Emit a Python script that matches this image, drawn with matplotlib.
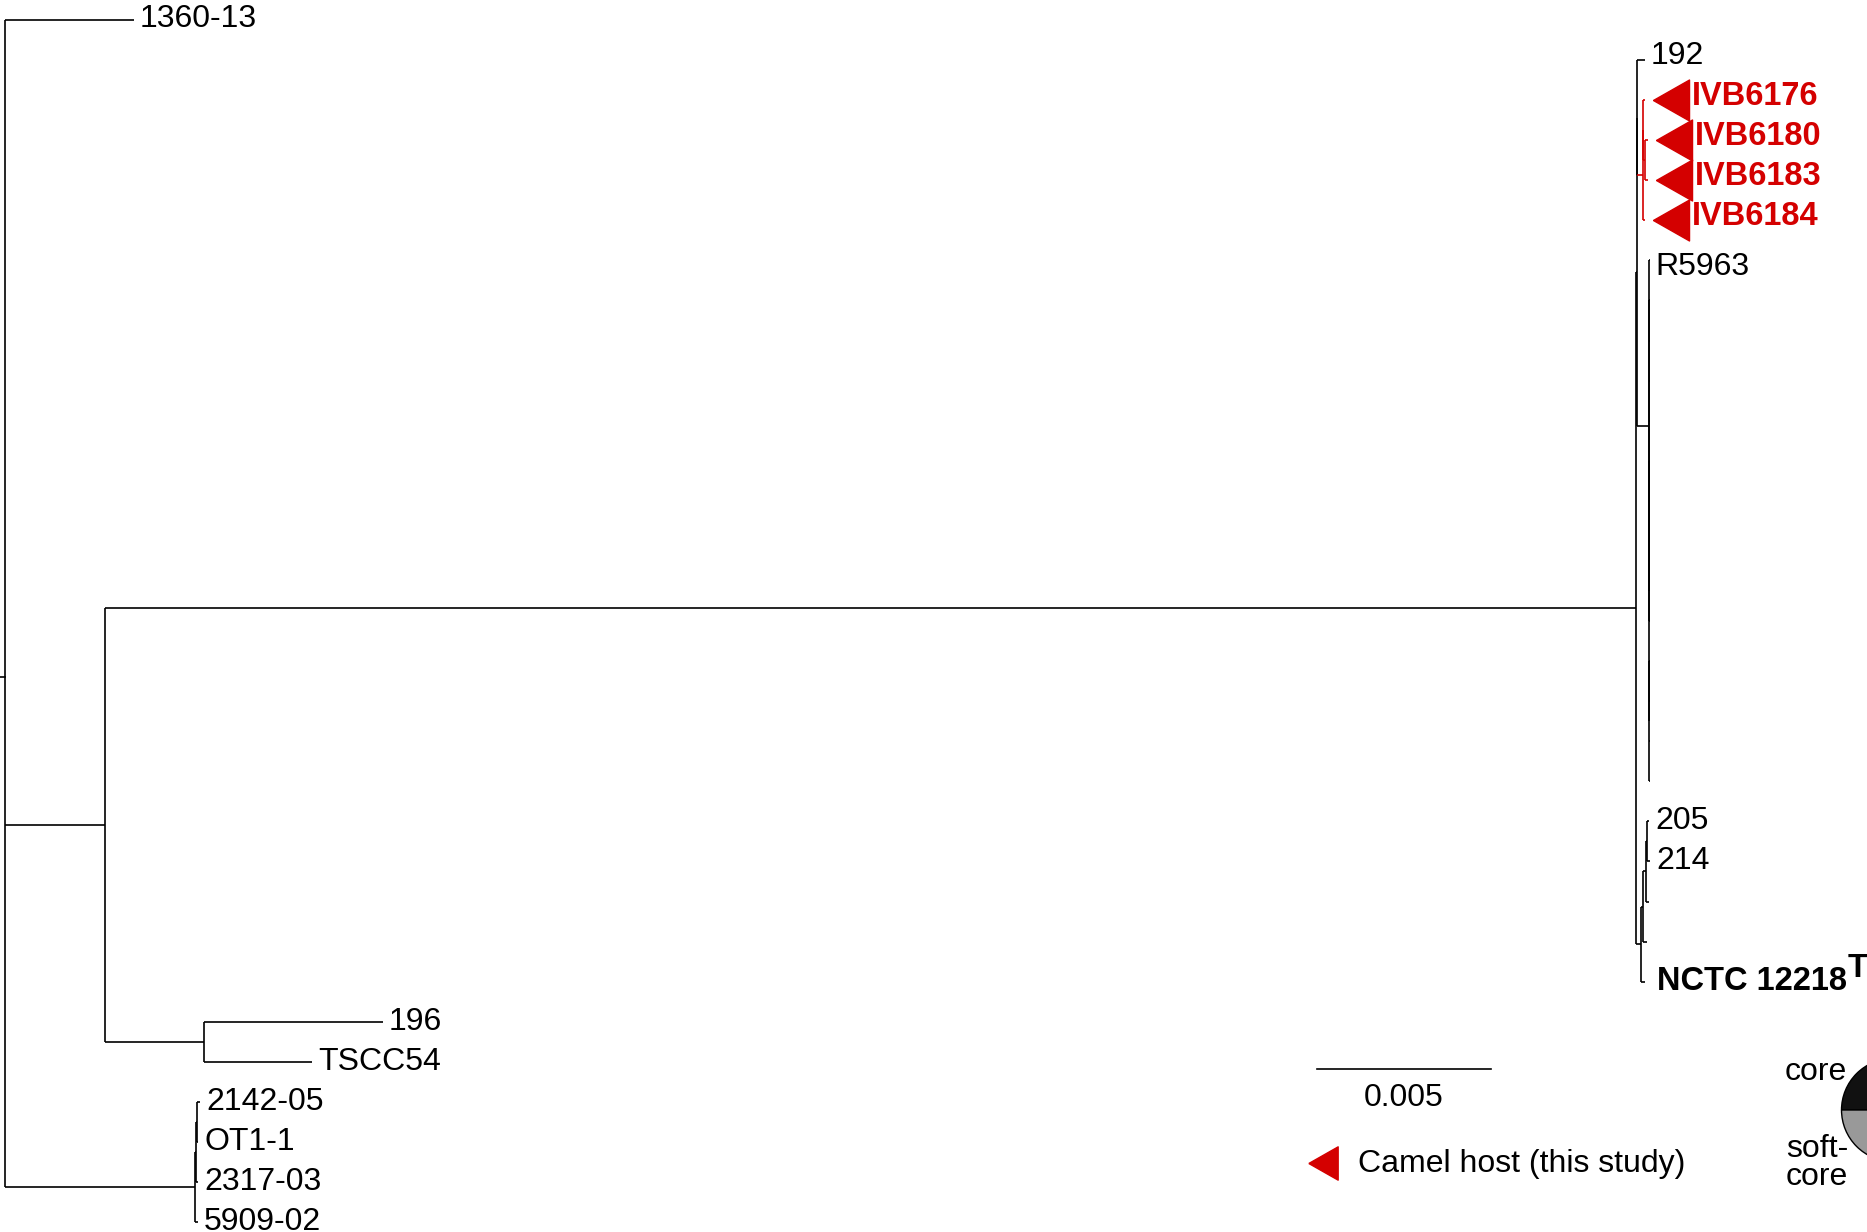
import matplotlib
matplotlib.use("Agg")
import matplotlib.pyplot as plt
import matplotlib.transforms as mtransforms

plt.rcParams['font.family'] = ['Liberation Sans', 'DejaVu Sans']

# tree nodes: name, parent, distance from root (substitutions/site)
node_names = ["root", "1360-13", "n_m", "n_q",
              "n_a", "n_n", "196", "TSCC54",
              "n_q1", "n_q2", "2142-05", "OT1-1", "2317-03", "5909-02",
              "n_e", "n_d", "n_f", "n_b", "192",
              "n_r1", "n_r2", "n_r3", "IVB6176", "IVB6180", "IVB6183", "IVB6184",
              "R5963", "n_x", "n_x1", "n_x2",
              "_h07", "_h08", "_h09", "_h10", "_h11", "_h12", "_h13", "_h14", "_h15",
              "_h16", "_h17", "_h18", "_h19",
              "n_c", "NCTC 12218", "n_g", "_h23", "n_g1", "205", "214", "_h22"]
node_parent = [None, "root", "root", "root",
               "n_m", "n_m", "n_n", "n_n",
               "n_q", "n_q1", "n_q2", "n_q2", "n_q1", "n_q",
               "n_a", "n_a", "n_e", "n_e", "n_f",
               "n_f", "n_r1", "n_r2", "n_r2", "n_r3", "n_r3", "n_r1",
               "n_b", "n_b", "n_x", "n_x",
               "n_x1", "n_x1", "n_x1", "n_x1", "n_x1", "n_x1", "n_x1", "n_x1", "n_x1",
               "n_x2", "n_x2", "n_x2", "n_x2",
               "n_d", "n_d", "n_c", "n_c", "n_g", "n_g1", "n_g1", "n_g"]
node_depth = [0.0, 0.00371, 0.00287, 0.00546,
              0.04687, 0.00572, 0.01086, 0.00882,
              0.00549, 0.00551, 0.00560, 0.00555, 0.00555, 0.00555,
              0.04689, 0.04701, 0.04690, 0.04725, 0.04713,
              0.04707, 0.04708, 0.04713, 0.04713, 0.04722, 0.04722, 0.04713,
              0.04726, 0.04725, 0.04725, 0.04725,
              0.04726, 0.04726, 0.04726, 0.04726, 0.04726, 0.04726, 0.04726, 0.04726, 0.04726,
              0.04726, 0.04726, 0.04726, 0.04726,
              0.04707, 0.04713, 0.04716, 0.04718, 0.04717, 0.04724, 0.04727, 0.04724]

# tip order, top to bottom
tip_order = ["1360-13", "192", "IVB6176", "IVB6180", "IVB6183", "IVB6184", "R5963",
             "_h07", "_h08", "_h09", "_h10", "_h11", "_h12", "_h13", "_h14", "_h15",
             "_h16", "_h17", "_h18", "_h19", "205", "214", "_h22", "_h23", "NCTC 12218",
             "196", "TSCC54", "2142-05", "OT1-1", "2317-03", "5909-02"]

camel_tips = ["IVB6176", "IVB6180", "IVB6183", "IVB6184"]
type_strain = "NCTC 12218"
scale_len = 0.005

red = '#d40000'
# small vertical nudges of some tip labels (pixels, up = +)
label_dy = {"192": 4, "R5963": -7, "1360-13": 1}

parent = dict(zip(node_names, node_parent))
depth = dict(zip(node_names, node_depth))
children = {n: [] for n in node_names}
for n, p in parent.items():
    if p is not None:
        children[p].append(n)

ypos = {}
for i, t in enumerate(tip_order):
    ypos[t] = i


def get_y(n):
    if n in ypos:
        return ypos[n]
    ys = [get_y(c) for c in children[n]]
    ypos[n] = sum(ys) / len(ys)
    return ypos[n]


get_y("root")

red_nodes = set()


def mark_red(n):
    red_nodes.add(n)
    for c in children[n]:
        mark_red(c)


mark_red("n_r1")

fig = plt.figure(figsize=(18.67, 12.32), dpi=100)
ax = fig.add_axes([0, 0, 1, 1])
ax.set_xlim(-0.000144, 0.053506)
ax.set_ylim(30.247, -0.499)
ax.axis('off')

lw = 1.2
for n in node_names:
    col = red if n in red_nodes else 'black'
    p = parent[n]
    if p is not None:
        ax.plot([depth[p], depth[n]], [ypos[n], ypos[n]], color=col, lw=lw,
                solid_capstyle='butt')
    if children[n]:
        ys = [ypos[c] for c in children[n]]
        ax.plot([depth[n], depth[n]], [min(ys), max(ys)], color=col, lw=lw,
                solid_capstyle='butt')
# root stub
ax.plot([-0.000144, 0], [ypos["root"], ypos["root"]], color='black', lw=lw)

fs = 23
fsb = 23.5
tri = [(-0.88, 0), (0.88, 1), (0.88, -1), (-0.88, 0)]
tri_trans = mtransforms.offset_copy(ax.transData, fig=fig, x=26, y=0, units='dots')
for t in tip_order:
    if t.startswith('_'):
        continue
    x, y = depth[t], ypos[t]
    dy = label_dy.get(t, 0)
    if t in camel_tips:
        ax.plot(x, y, marker=tri, ms=29.5, color=red, mec=red, ls='none',
                transform=tri_trans)
        ax.annotate(t, (x, y), xytext=(47, 4), textcoords='offset pixels',
                    ha='left', va='center', fontsize=fsb, fontweight='bold', color=red)
    elif t == type_strain:
        lab = ax.annotate(t, (x, y), xytext=(12, 0), textcoords='offset pixels',
                          ha='left', va='center', fontsize=fsb, fontweight='bold')
        ax.annotate('T', xy=(1, 0), xycoords=lab, xytext=(1, 13),
                    textcoords='offset pixels', ha='left', va='bottom',
                    fontsize=fsb, fontweight='bold')
    else:
        ax.annotate(t, (x, y), xytext=(6, dy), textcoords='offset pixels',
                    ha='left', va='center', fontsize=fs)

# scale bar
sb_x, sb_y = 0.0377, 26.19
ax.plot([sb_x, sb_x + scale_len], [sb_y, sb_y], color='black', lw=lw)
ax.annotate(str(scale_len), (sb_x + scale_len / 2, sb_y), xytext=(0, -29),
            textcoords='offset pixels', ha='center', va='center', fontsize=23)

# host legend
fig.lines.append(plt.Line2D([1323 / 1867], [1 - 1163 / 1232], marker=tri, ms=24,
                            color=red, ls='none', transform=fig.transFigure))
fig.text(1358 / 1867, 1 - 1164 / 1232, "Camel host (this study)", fontsize=23,
         ha='left', va='center')

# core / soft-core pie (cut by right edge)
pax = fig.add_axes([1841 / 1867, 1 - 1162 / 1232, 104 / 1867, 104 / 1232])
pax.pie([1, 1], startangle=0, colors=['#111111', '#999999'],
        wedgeprops=dict(edgecolor='black', linewidth=1))
pax.set_xlim(-1.01, 1.01)
pax.set_ylim(-1.01, 1.01)
pax.set_aspect('equal')
fig.text(1847 / 1867, 1 - 1072 / 1232, "core", fontsize=23, ha='right', va='center')
fig.text(1786 / 1867, 1 - 1163 / 1232, "soft-\ncore", fontsize=23, ha='left',
         va='center', linespacing=0.9)

fig.savefig("out.png", dpi=100)
